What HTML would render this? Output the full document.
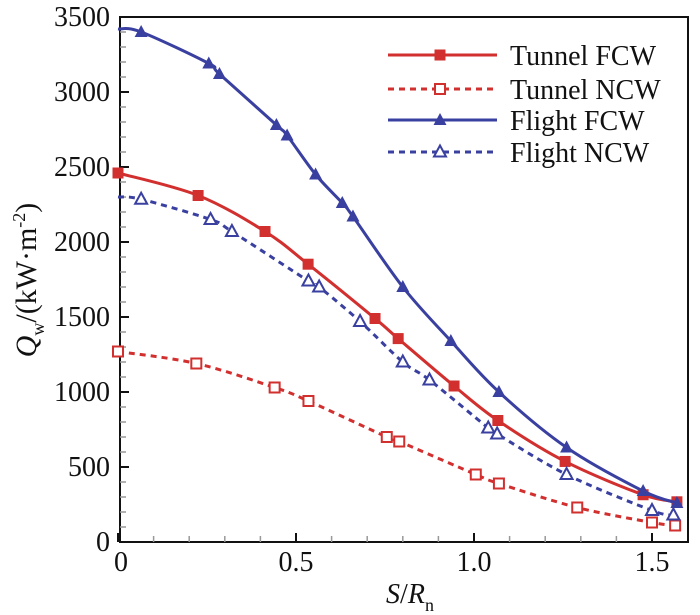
<!DOCTYPE html>
<html><head><meta charset="utf-8"><style>
body{margin:0;background:#fff;}
svg{display:block;font-family:"Liberation Serif",serif;}
</style></head><body>
<svg id="chart" width="700" height="615" viewBox="0 0 700 615" xmlns="http://www.w3.org/2000/svg">
<g id="plot"></g>
</svg>
<script>
const xTunnelFCW=[0,0.225,0.413,0.534,0.722,0.787,0.944,1.067,1.256,1.475,1.57];
const yTunnelFCW=[2460,2310,2070,1852,1490,1356,1040,810,537,315,268];
const xTunnelNCW=[0,0.22,0.44,0.535,0.755,0.79,1.005,1.07,1.29,1.5,1.565];
const yTunnelNCW=[1270,1190,1030,940,700,670,450,390,230,130,110];
const xFlightFCW=[0,0.065,0.255,0.285,0.445,0.475,0.555,0.63,0.66,0.8,0.935,1.07,1.26,1.475,1.57];
const yFlightFCW=[3420,3400,3190,3120,2780,2710,2450,2260,2170,1700,1340,1000,630,340,260];
const xFlightNCW=[0,0.065,0.26,0.32,0.535,0.565,0.68,0.8,0.875,1.04,1.065,1.26,1.5,1.56];
const yFlightNCW=[2300,2285,2150,2070,1740,1700,1470,1200,1080,760,720,450,210,180];
const yTicks=[0,500,1000,1500,2000,2500,3000,3500];
const xTicks=[0,0.5,1.0,1.5];
const xTickLabels=["0","0.5","1.0","1.5"];
const legendLabels=["Tunnel FCW","Tunnel NCW","Flight FCW","Flight NCW"];

const L=120,R=688,T=17,B=542;
const X0=118,XS=356;
const sx=v=>X0+v*XS;
const sy=v=>B-v*(B-T)/3500;
const NS="http://www.w3.org/2000/svg";
const g=document.getElementById('plot');
function mk(tag,attrs,parent){const e=document.createElementNS(NS,tag);for(const k in attrs)e.setAttribute(k,attrs[k]);(parent||g).appendChild(e);return e;}
const RED="#d22f2f",BLUE="#3a40a0";

const frame=mk('rect',{x:L,y:T,width:R-L,height:B-T,fill:'none',stroke:'#111','stroke-width':2});


for(let v=0;v<=3500;v+=100){
  const major=v%500===0;
  const t=mk('line',{x1:L,x2:L+(major?9:6),y1:sy(v),y2:sy(v),stroke:major?'#111':'#999','stroke-width':major?2:1.5});
  
  
}
yTicks.forEach(v=>{
  const t=mk('text',{x:110,y:sy(v)+9,'text-anchor':'end','font-size':28,fill:'#111'});
  t.textContent=String(v);
  
  
});
for(let i=0;i<=15;i++){
  const v=i/10,major=i%5===0;
  const t=mk('line',{x1:sx(v),x2:sx(v),y1:B,y2:B-(major?9:6),stroke:major?'#111':'#999','stroke-width':major?2:1.5});
  
  
}
xTicks.forEach((v,i)=>{
  const t=mk('text',{x:i===0?sx(v)+3:sx(v),y:571,'text-anchor':'middle','font-size':28,fill:'#111'});
  t.textContent=xTickLabels[i];
  
  
});
const xt=mk('text',{x:410,y:603,'text-anchor':'middle','font-size':28,fill:'#111'});
xt.innerHTML='<tspan font-style="italic">S</tspan>/<tspan font-style="italic">R</tspan><tspan font-size="18" dy="8">n</tspan>';


const yt=mk('text',{transform:'translate(36,280) rotate(-90)','text-anchor':'middle','font-size':30,fill:'#111'});
yt.innerHTML='<tspan font-style="italic">Q</tspan><tspan font-size="18" dy="8">w</tspan><tspan dy="-8">/(kW·m</tspan><tspan font-size="18" dy="-11">-2</tspan><tspan dy="11">)</tspan>';



function smooth(pts){
  let d=`M${pts[0][0]},${pts[0][1]}`;
  for(let i=0;i<pts.length-1;i++){
    const p0=pts[i-1]||pts[i],p1=pts[i],p2=pts[i+1],p3=pts[i+2]||p2;
    const c1=[p1[0]+(p2[0]-p0[0])/6,p1[1]+(p2[1]-p0[1])/6];
    const c2=[p2[0]-(p3[0]-p1[0])/6,p2[1]-(p3[1]-p1[1])/6];
    d+=` C${c1[0]},${c1[1]} ${c2[0]},${c2[1]} ${p2[0]},${p2[1]}`;
  }
  return d;
}
function marker(x,y,type,color,parent){
  let e;
  if(type==='sq') e=mk('rect',{x:x-5.5,y:y-5.5,width:11,height:11,fill:color},parent);
  else if(type==='osq') e=mk('rect',{x:x-5,y:y-5,width:10,height:10,fill:'#fff',stroke:color,'stroke-width':2},parent);
  else if(type==='tri') e=mk('path',{d:`M${x},${y-7}L${x+6.5},${y+5}L${x-6.5},${y+5}Z`,fill:color},parent);
  else e=mk('path',{d:`M${x},${y-6.5}L${x+6},${y+4.5}L${x-6},${y+4.5}Z`,fill:'#fff',stroke:color,'stroke-width':2},parent);
  return e;
}
const series=[
  {xs:xTunnelFCW,ys:yTunnelFCW,c:RED,dash:null,m:'sq',n:'tunnel-fcw',skip0:false},
  {xs:xTunnelNCW,ys:yTunnelNCW,c:RED,dash:'6,5',m:'osq',n:'tunnel-ncw',skip0:false},
  {xs:xFlightFCW,ys:yFlightFCW,c:BLUE,dash:null,m:'tri',n:'flight-fcw',skip0:true},
  {xs:xFlightNCW,ys:yFlightNCW,c:BLUE,dash:'6,5',m:'otri',n:'flight-ncw',skip0:true}
];
series.forEach(s=>{
  const sg=mk('g',{});
  
  
  const pts=s.xs.map((x,i)=>[sx(x),sy(s.ys[i])]);
  const p=mk('path',{d:smooth(pts),fill:'none',stroke:s.c,'stroke-width':3},sg);
  if(s.dash)p.setAttribute('stroke-dasharray',s.dash);
  
  
  pts.forEach((q,i)=>{
    if(i===0 && s.skip0) return;
    const m=marker(q[0],q[1],s.m,s.c,sg);
    
    
  });
});
const lg=mk('g',{});


const rowsY=[55,89,120,152];
series.forEach((s,i)=>{
  const y=rowsY[i];
  const eg=mk('g',{},lg);
  
  
  const l=mk('line',{x1:388,x2:497,y1:y,y2:y,stroke:s.c,'stroke-width':3},eg);
  if(s.dash)l.setAttribute('stroke-dasharray',s.dash);
  marker(440,y,s.m,s.c,eg);
  const t=mk('text',{x:510,y:y+10,'font-size':28,fill:'#111'},eg);
  t.textContent=legendLabels[i];
});
</script>
</body></html>
